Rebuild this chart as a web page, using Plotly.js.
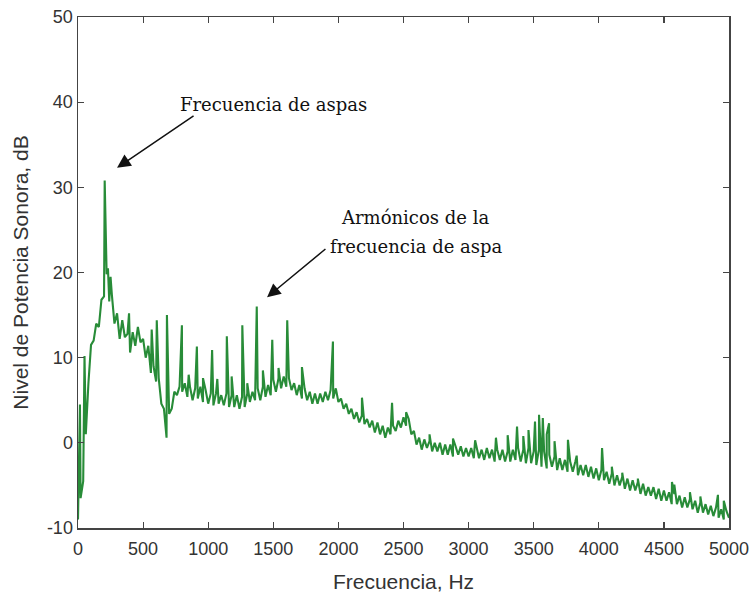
<!DOCTYPE html>
<html>
<head>
<meta charset="utf-8">
<script src="https://cdn.plot.ly/plotly-3.0.1.min.js"></script>
<style>html,body{margin:0;padding:0;background:#fff;}#chart{width:750px;height:599px;}</style>
</head>
<body>
<div id="chart"></div>
<script>
// Broadband spectrum sampled every 20 Hz (0 .. 5000 Hz), dB
const baseStepHz = 20;
const baseLevel = [
  -9, -6.5, -4.5, 1.0, 7.0, 11.5, 12.0, 14.0, 13.6, 16.8,
  17.2, 19.8, 16.6, 17.4, 14.0, 15.2, 12.2, 14.4, 12.4, 12.8,
  10.6, 13.0, 11.4, 13.6, 11.8, 12.2, 10.0, 11.4, 8.2, 9.0,
  7.2, 7.6, 4.6, 4.0, 0.6, 3.4, 4.0, 6.0, 5.6, 6.6,
  6.0, 7.0, 5.4, 6.6, 5.0, 6.4, 5.2, 6.6, 4.8, 6.2,
  4.6, 5.8, 4.4, 5.8, 4.6, 5.6, 4.4, 5.8, 4.2, 5.6,
  4.2, 5.6, 4.0, 5.4, 4.2, 5.8, 4.8, 6.0, 5.0, 6.4,
  5.0, 6.6, 5.4, 6.8, 5.6, 7.4, 6.0, 7.6, 6.4, 7.8,
  6.6, 7.6, 6.2, 7.0, 5.6, 6.8, 5.2, 6.4, 5.0, 6.0,
  4.6, 5.8, 4.6, 5.8, 4.8, 6.0, 5.0, 6.2, 5.2, 6.4,
  4.8, 5.2, 4.0, 4.6, 3.4, 4.0, 2.8, 3.6, 2.4, 3.2,
  2.2, 2.8, 1.8, 2.6, 1.2, 2.4, 1.0, 2.0, 0.6, 1.8,
  1.0, 2.0, 1.4, 2.6, 1.8, 3.0, 2.0, 2.8, 1.0, 1.4,
  -0.2, 0.6, -0.8, 0.4, -0.6, 0.2, -1.0, 0.0, -1.0, 0.0,
  -1.4, -0.2, -1.4, -0.2, -1.6, -0.4, -1.4, -0.4, -1.6, -0.6,
  -1.6, -0.6, -1.8, -0.4, -1.8, -0.8, -2.0, -0.6, -1.8, -0.8,
  -2.2, -0.8, -2.0, -0.8, -2.2, -1.0, -2.2, -0.8, -2.0, -0.6,
  -2.2, -0.8, -2.4, -0.6, -2.4, -1.0, -2.6, -0.8, -2.8, -1.0,
  -3.0, -1.4, -2.8, -1.6, -3.2, -1.8, -3.2, -2.0, -3.4, -2.2,
  -3.4, -2.2, -3.8, -2.6, -3.8, -2.6, -4.0, -2.8, -4.2, -3.0,
  -4.4, -3.2, -4.4, -3.4, -4.8, -3.6, -5.0, -3.8, -5.0, -4.0,
  -5.4, -4.2, -5.6, -4.4, -5.6, -4.6, -6.0, -4.8, -6.2, -5.2,
  -6.2, -5.2, -6.6, -5.4, -6.8, -5.6, -6.8, -5.8, -7.2, -6.0,
  -7.2, -6.2, -7.6, -6.4, -7.6, -6.6, -7.8, -6.8, -8.2, -7.0,
  -8.2, -7.2, -8.4, -7.4, -8.6, -7.6, -8.8, -7.8, -9.0, -8.0,
  -8.8
];

// Narrow tonal peaks (blade-pass frequency and harmonics, other tones)
const peakFreq = [15, 50, 205, 230, 250, 392, 566, 605, 683, 798, 850, 913, 960, 1030, 1070, 1143, 1180,
  1262, 1300, 1373, 1420, 1492, 1540, 1607, 1720, 1958, 2181, 2412, 2520, 2700, 2880, 3050, 3210,
  3300, 3372, 3420, 3460, 3510, 3541, 3570, 3600, 3618, 3660, 3763, 3830, 4025, 4100, 4180, 4300,
  4562, 4580, 4700, 4780, 4915, 4960];
const peakLevel = [4.5, 10.2, 30.8, 20.5, 19.5, 15.2, 13.3, 14.4, 15.0, 13.8, 8.0, 11.3, 7.6, 10.9, 7.5, 12.5, 7.8,
  13.8, 7.0, 16.0, 8.5, 12.1, 8.8, 14.4, 8.9, 11.9, 5.3, 4.7, 3.6, 1.0, 0.5, 0.3, 0.6,
  0.9, 1.9, 0.8, 1.5, 2.5, 3.3, 2.9, 1.0, 2.3, 0.2, 0.35, -1.5, -0.6, -2.8, -3.5, -4.2,
  -4.6, -4.9, -5.8, -6.3, -6.1, -6.8];

const xTicks = [0, 500, 1000, 1500, 2000, 2500, 3000, 3500, 4000, 4500, 5000];
const yTicks = [-10, 0, 10, 20, 30, 40, 50];

// merge base spectrum and peaks, ordered by frequency
const pts = [];
baseLevel.forEach((v, i) => pts.push([i * baseStepHz, v]));
peakFreq.forEach((f, i) => pts.push([f, peakLevel[i]]));
pts.sort((a, b) => a[0] - b[0]);

const trace = {
  x: pts.map(p => p[0]),
  y: pts.map(p => p[1]),
  type: 'scatter',
  mode: 'lines',
  line: {color: 'rgb(40,140,56)', width: 2.1},
  hoverinfo: 'x+y'
};

const serif = {family: 'DejaVu Serif', size: 18, color: '#111'};
const axisCommon = {
  showline: true, linecolor: '#444', linewidth: 1.5, mirror: 'ticks',
  ticks: 'inside', ticklen: 6, tickwidth: 1.2, tickcolor: '#444',
  showgrid: false, zeroline: false,
  tickfont: {family: 'Liberation Sans', size: 18, color: '#333'}
};

const layout = {
  width: 750, height: 599,
  margin: {l: 78, r: 21, t: 17, b: 71},
  paper_bgcolor: '#fff', plot_bgcolor: '#fff',
  showlegend: false,
  xaxis: Object.assign({}, axisCommon, {
    range: [0, 5000], tickvals: xTicks, ticktext: xTicks.map(String),
    ticklabelstandoff: 4,
    title: {text: 'Frecuencia, Hz', font: {family: 'Liberation Sans', size: 21, color: '#333'}, standoff: 16}
  }),
  yaxis: Object.assign({}, axisCommon, {
    range: [-10, 50], tickvals: yTicks, ticktext: yTicks.map(String),
    title: {text: 'Nivel de Potencia Sonora, dB', font: {family: 'Liberation Sans', size: 21, color: '#333'}, standoff: 12}
  }),
  annotations: [
    {x: 1505, y: 39.7, xref: 'x', yref: 'y', text: 'Frecuencia de aspas', showarrow: false, font: serif},
    {x: 300, y: 32.3, ax: 899, ay: 38.5, xref: 'x', yref: 'y', axref: 'x', ayref: 'y', text: '',
      showarrow: true, arrowhead: 2, arrowsize: 1.8, arrowwidth: 1.5, arrowcolor: '#111'},
    {x: 2592, y: 26.5, xref: 'x', yref: 'y', text: 'Armónicos de la', showarrow: false, font: serif},
    {x: 2596, y: 23.1, xref: 'x', yref: 'y', text: 'frecuencia de aspa', showarrow: false, font: serif},
    {x: 1452, y: 17.1, ax: 1912, ay: 22.9, xref: 'x', yref: 'y', axref: 'x', ayref: 'y', text: '',
      showarrow: true, arrowhead: 2, arrowsize: 1.8, arrowwidth: 1.5, arrowcolor: '#111'}
  ]
};

Plotly.newPlot('chart', [trace], layout, {displayModeBar: false, staticPlot: true});
</script>
</body>
</html>
